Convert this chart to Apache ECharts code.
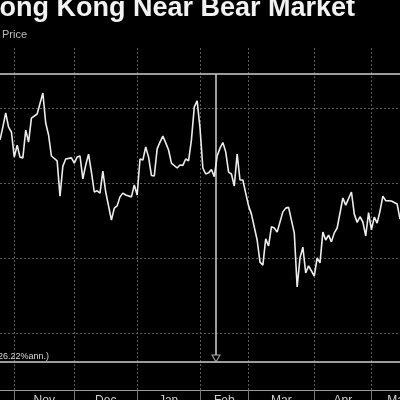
<!DOCTYPE html>
<html><head><meta charset="utf-8">
<script src="https://cdn.jsdelivr.net/npm/echarts@6/dist/echarts.min.js"></script>
<style>html,body{margin:0;padding:0;background:#000}#c{width:400px;height:400px}</style>
</head><body><div id="c"></div>
<script>
// trading-day index (0 = first visible session) and index level
const days = [0,1,2,3,4,5,6,7,8,9,10,11,13,15,16,17,18,20,21,22,23,25,26,27,28,29,30,31,32,33,34,35,36,37,39,40,41,42,43,44,46,47,48,49,50,51,52,53,54,55,56,57,58,59,60,62,63,64,65,66,67,68,69,70,71,72,73,74,75,76,77,78,79,80,81,82,83,84,85,86,87,88,90,91,92,93,94,95,96,97,99,100,101,103,104,105,106,107,108,110,111,112,113,114,115,116,117,118,120,121,123,124,125,126,127,128,129,130,131,132,133,134,135,137,139,140];
const prices = [27150,27490,27870,27490,27360,26690,27010,26690,26670,27410,27090,27730,27840,28400,27600,27280,26720,26590,25650,26450,26640,26670,26530,26690,26720,26110,26480,26770,26290,25760,25790,25730,26320,25760,25010,25330,25390,25630,25730,25680,25630,25950,25680,26640,26610,26960,26690,26200,26190,26910,27090,27250,27070,26880,26530,26400,26480,26470,26640,26590,27150,28030,28190,27470,26400,26240,26270,26360,26170,26720,26930,27080,26830,26290,26240,25920,26770,26080,26080,25730,25390,25170,24480,23890,23810,24510,24320,24830,24800,24690,25230,25330,25350,24670,23230,24000,24290,23600,23790,23520,24000,23870,24690,24480,24610,24430,24670,24800,25600,25410,25760,25170,24950,25100,24960,24590,25210,24750,25090,24930,25250,25650,25530,25520,25440,25040];
const monthStarts = [5,26,48,70,87,110,130];
const monthNames = ['Nov','Dec','Jan','Feb','Mar','Apr','May'];
const monthLabelDays = [15.5,37,59,78.5,98.5,120,139.5];
const gridPrices = [22000,24000,26000,28000];
const rangeHigh = 28907, rangeLow = 21227;
const eventDay = 75.6, eventTop = 28907, eventBottom = 21413, eventArrow = 21320;
const titleText = 'Hong Kong Near Bear Market';
const subText = 'Price';
const annText = '(-26.22%ann.)';

const chart = echarts.init(document.getElementById('c'), null, {renderer:'canvas'});
const dotted = {color:'#5a5a5a', width:1, type:[2,2]};
chart.setOption({
  backgroundColor:'#000',
  animation:false,
  grid:{left:0,right:0,top:46,bottom:10,containLabel:false,outerBoundsMode:'none'},
  xAxis:{type:'value',min:0,max:140,
    axisLine:{show:true,lineStyle:{color:'#9a9a9a',width:1}},
    axisTick:{show:true,customValues:monthStarts,length:10,lineStyle:{color:'#777'}},
    splitLine:{show:false},
    axisLabel:{show:true,customValues:monthLabelDays,margin:5,color:'#cfcfcf',fontSize:12,fontFamily:'Liberation Sans',
      formatter:function(v){const i=monthLabelDays.indexOf(v);return i>=0?monthNames[i]:'';}}
  },
  yAxis:{type:'value',min:20480,max:29653,axisLine:{show:false},axisTick:{show:false},axisLabel:{show:false},splitLine:{show:false}},
  graphic:[
    {type:'text',x:-20,y:-5,style:{text:titleText,font:'bold 27px "Liberation Sans"',fill:'#f2f2f2',align:'left',verticalAlign:'top'}},
    {type:'text',x:2,y:29,style:{text:subText,font:'11px "Liberation Sans"',fill:'#bdbdbd',align:'left',verticalAlign:'top'}},
    {type:'text',x:49,y:357,style:{text:annText,font:'9px "Liberation Sans"',fill:'#d8d8d8',align:'right',verticalAlign:'middle'}}
  ],
  series:[
    {type:'line',data:[],silent:true,
      markLine:{silent:true,symbol:'none',label:{show:false},animation:false,
        data:[
          ...monthStarts.map(d=>({xAxis:d,lineStyle:dotted})),
          ...gridPrices.map(p=>({yAxis:p,lineStyle:dotted})),
          {yAxis:rangeHigh,lineStyle:{color:'#cfcfcf',width:1.5,type:'solid'}},
          {yAxis:rangeLow,lineStyle:{color:'#cfcfcf',width:1.5,type:'solid'}},
          [{coord:[eventDay,eventTop],lineStyle:{color:'#cfcfcf',width:1.5,type:'solid'}},{coord:[eventDay,eventBottom]}]
        ]}},
    {type:'line',data:days.map((d,i)=>[d,prices[i]]),showSymbol:false,silent:true,
      lineStyle:{color:'#ececec',width:1.6},z:5},
    {type:'scatter',data:[[eventDay,eventArrow]],symbol:'triangle',symbolRotate:180,symbolSize:[8,7],silent:true,
      itemStyle:{color:'#000',borderColor:'#cfcfcf',borderWidth:1},z:6}
  ]
});
</script></body></html>
